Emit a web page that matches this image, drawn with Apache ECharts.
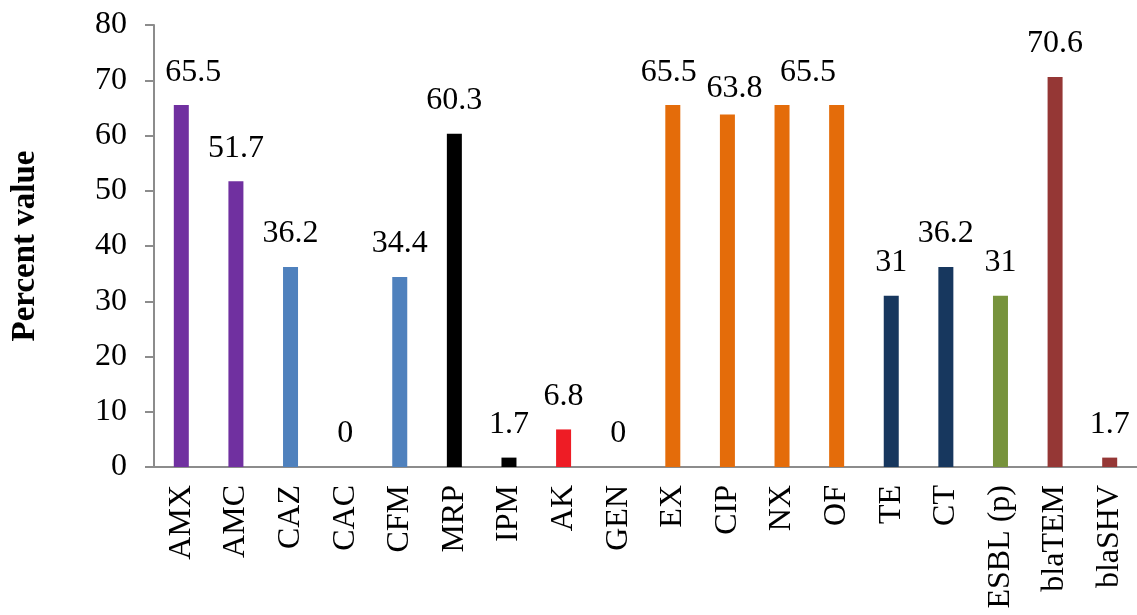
<!DOCTYPE html>
<html><head><meta charset="utf-8">
<script src="https://cdn.jsdelivr.net/npm/echarts@6/dist/echarts.min.js"></script>
<style>html,body{margin:0;padding:0;background:#fff}#c{width:1137px;height:615px}</style>
</head><body><div id="c"></div>
<script>
const categories = ["AMX","AMC","CAZ","CAC","CFM","MRP","IPM","AK","GEN","EX","CIP","NX","OF","TE","CT","ESBL (p)","blaTEM","blaSHV"];
const values = [65.5,51.7,36.2,0,34.4,60.3,1.7,6.8,0,65.5,63.8,65.5,65.5,31,36.2,31,70.6,1.7];
const barColors = ["#7030A0","#7030A0","#4F81BD","#4F81BD","#4F81BD","#000000","#000000","#EE1C25","#EE1C25","#E46C0A","#E46C0A","#E46C0A","#E46C0A","#17375E","#17375E","#77933C","#953735","#953735"];
const showLabel = [true,true,true,true,true,true,true,true,true,true,true,true,false,true,true,true,true,true];
const yTicks = [0,10,20,30,40,50,60,70,80];
const yTitle = "Percent value";

// label nudges to avoid overlaps (styling, not data)
const labelNudge = {"AMX":[12,0],"EX":[-4,0],"CIP":[7,7],"NX":[26,0]};

const chart = echarts.init(document.getElementById('c'));
const font = "Liberation Serif";
chart.setOption({
  animation:false,
  textStyle:{fontFamily:font},
  grid:{left:154,right:0,top:25,bottom:148,containLabel:false},
  xAxis:{type:'category',data:categories,
    axisLine:{lineStyle:{color:'#8c8c8c',width:2}},
    axisTick:{show:false},
    axisLabel:{rotate:90,interval:0,color:'#000',fontFamily:font,fontSize:32,margin:18}},
  yAxis:{type:'value',min:yTicks[0],max:yTicks[yTicks.length-1],interval:10,
    name:yTitle,nameLocation:'middle',nameGap:112,
    nameTextStyle:{fontFamily:font,fontSize:33,fontWeight:'bold',color:'#000'},
    axisLine:{show:true,lineStyle:{color:'#8c8c8c',width:2}},
    axisTick:{show:true,length:9,lineStyle:{color:'#8c8c8c',width:2}},
    splitLine:{show:false},
    axisLabel:{color:'#000',fontFamily:font,fontSize:32,margin:27}},
  series:[{type:'bar',barWidth:15,
    data:values.map((v,i)=>({value:v,itemStyle:{color:barColors[i]},
      label:{show:showLabel[i],offset:labelNudge[categories[i]]||[0,0]}})),
    label:{position:'top',distance:17,color:'#000',fontFamily:font,fontSize:32}}]
});
</script></body></html>
